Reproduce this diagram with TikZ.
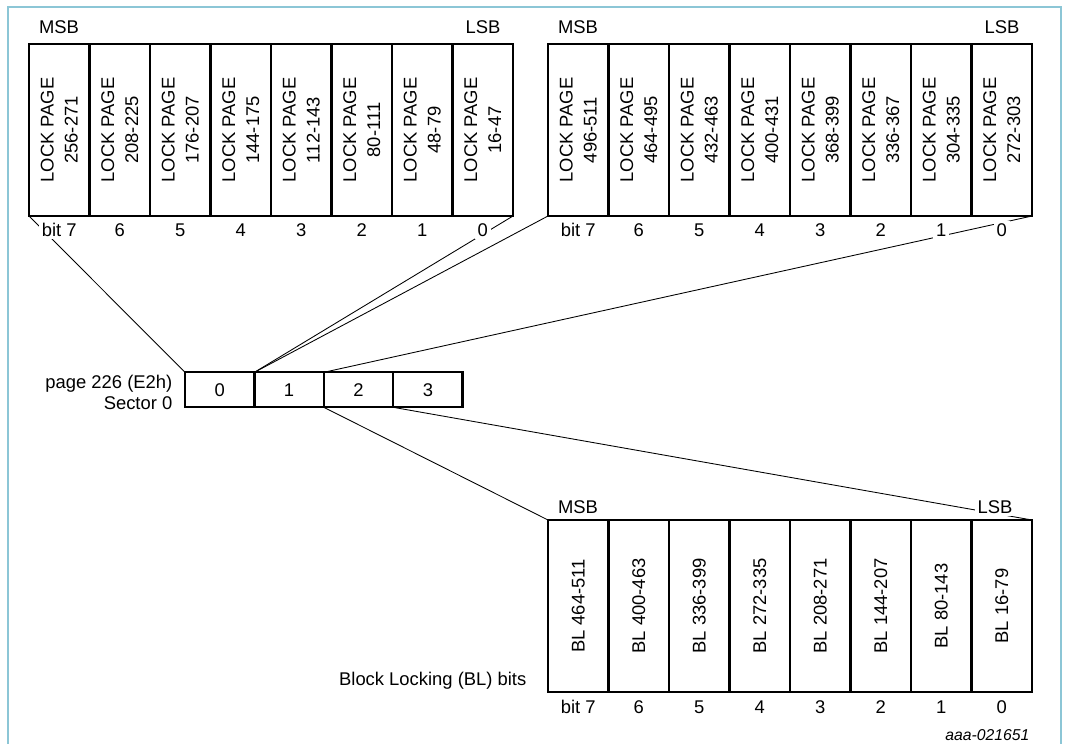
\documentclass[tikz,border=0pt]{standalone}
\usepackage{fontspec}
\setmainfont{Liberation Sans}
\pgfdeclarelayer{background}
\pgfsetlayers{background,main}
\definecolor{framecol}{RGB}{140,198,214}
\begin{document}
\begin{tikzpicture}[x=0.75pt,y=-0.75pt,
  font=\fontsize{13.8pt}{18pt}\selectfont,
  cell/.style={draw, line width=1.7pt, minimum width=45.375pt, minimum height=129pt, inner sep=0pt, outer sep=0pt},
  scell/.style={draw, line width=1.7pt, minimum width=52pt, minimum height=26.25pt, inner sep=0pt, outer sep=0pt},
  conn/.style={line width=0.65pt},
  lbl/.style={fill=white, inner sep=2pt},
  vt/.style={rotate=90, align=center}]
\useasboundingbox (0,0) rectangle (1066,743);
\draw[framecol, line width=0.8pt] (8,750) -- (8,7) -- (1061,7) -- (1061,750);

% top-left register
\foreach \t [count=\i from 0] in {256-271,208-225,176-207,144-175,112-143,80-111,48-79,16-47} {
  \pgfmathtruncatemacro\b{7-\i}
  \node[cell] (a\b) at ({29+60.5*(\i+0.5)},130) {};
  \node[vt] (at\b) at (a\b.center) {LOCK PAGE\\\t};
  \node[lbl] (ab\b) at ({29+60.5*(\i+0.5)},230) {\ifnum\b=7 bit 7\else\b\fi};
}
\node (amsb) at (59,27) {MSB};
\node (alsb) at (483,27) {LSB};

% top-right register
\foreach \t [count=\i from 0] in {496-511,464-495,432-463,400-431,368-399,336-367,304-335,272-303} {
  \pgfmathtruncatemacro\b{7-\i}
  \node[cell] (b\b) at ({548+60.5*(\i+0.5)},130) {};
  \node[vt] (bt\b) at (b\b.center) {LOCK PAGE\\\t};
  \node[lbl] (bb\b) at ({548+60.5*(\i+0.5)},230) {\ifnum\b=7 bit 7\else\b\fi};
}
\node (bmsb) at (578,27) {MSB};
\node (blsb) at (1002,27) {LSB};

% sector bytes
\foreach \i in {0,1,2,3} {
  \node[scell] (s\i) at ({185+69.4*(\i+0.5)},389.8) {\i};
}
\node[align=right, anchor=east, font=\fontsize{13.8pt}{15.75pt}\selectfont] (sl) at (177,392) {page 226 (E2h)\\Sector 0};

% bottom register
\foreach \t [count=\i from 0] in {464-511,400-463,336-399,272-335,208-271,144-207,80-143,16-79} {
  \pgfmathtruncatemacro\b{7-\i}
  \node[cell] (c\b) at ({548+60.5*(\i+0.5)},606) {};
  \node[vt] (ct\b) at (c\b.center) {BL \t};
  \node[lbl] (cb\b) at ({548+60.5*(\i+0.5)},707) {\ifnum\b=7 bit 7\else\b\fi};
}
\node[lbl] (cmsb) at (578,507) {MSB};
\node[lbl] (clsb) at (995,507) {LSB};
\node[anchor=east] (bll) at (531,681) {Block Locking (BL) bits};
\node[anchor=east, font=\fontsize{11.8pt}{14pt}\selectfont\itshape] (ref) at (1034,735) {aaa-021651};

% connectors
\begin{pgfonlayer}{background}
\draw[conn] (a7.south west) -- (s0.north west);
\draw[conn] (a0.south east) -- (s1.north west);
\draw[conn] (b7.south west) -- (s1.north west);
\draw[conn] (b0.south east) -- (s2.north west);
\draw[conn] (s2.south west) -- (c7.north west);
\draw[conn] (s3.south west) -- (c0.north east);
\end{pgfonlayer}
\end{tikzpicture}
\end{document}
